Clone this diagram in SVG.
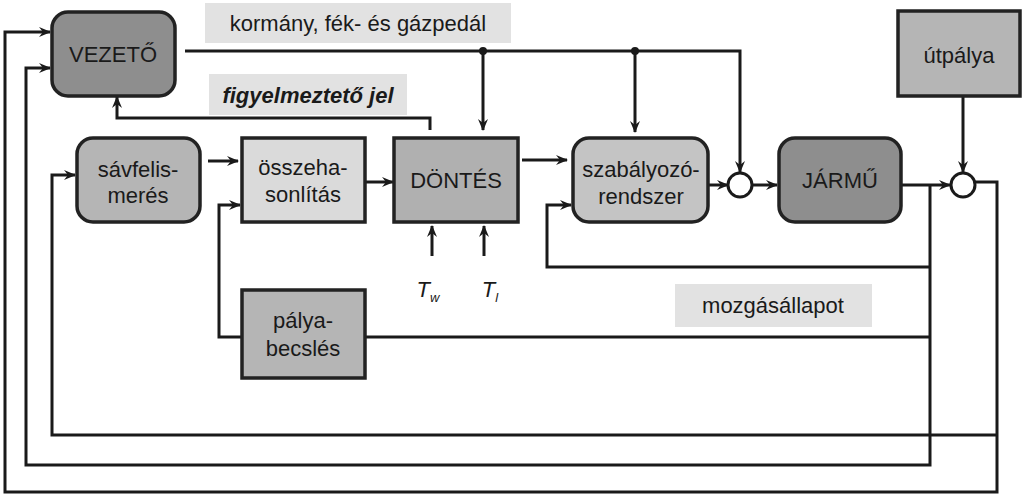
<svg xmlns="http://www.w3.org/2000/svg" width="1024" height="499" viewBox="0 0 1024 499">
<style>
.n{stroke:#222;stroke-width:3.5}
.t{font-family:"Liberation Sans",Arial,sans-serif;font-size:22px;fill:#1a1a1a;text-anchor:middle}
.c{fill:none;stroke:#1a1a1a;stroke-width:3}
.a{marker-end:url(#ah)}
.bg{fill:#e2e2e2}
</style>
<defs>
<marker id="ah" viewBox="0 0 12 10" refX="11" refY="5" markerWidth="12" markerHeight="10" markerUnits="userSpaceOnUse" orient="auto">
<path d="M0,0 L12,5 L0,10 L4,5 z" fill="#1a1a1a"/>
</marker>
</defs>
<rect width="1024" height="499" fill="#fff"/>
<g id="labels">
<rect class="bg" x="205" y="3" width="306" height="40"/>
<text class="t" x="358" y="31" font-size="23">kormány, fék- és gázpedál</text>
<rect class="bg" x="209" y="74" width="198" height="41"/>
<text class="t" x="308" y="103" font-style="italic" font-weight="bold" font-size="21">figyelmeztető jel</text>
<rect class="bg" x="675" y="284" width="197" height="43"/>
<text class="t" x="773" y="313" font-size="22">mozgásállapot</text>
<text class="t" x="428" y="297" font-style="italic" font-size="24">T<tspan font-size="13" dy="5" fill="#1a1a1a">w</tspan></text>
<text class="t" x="490" y="297" font-style="italic" font-size="24">T<tspan font-size="13" dy="5" fill="#1a1a1a">l</tspan></text>
</g>
<g id="connectors">
<path class="c a" d="M185,51 H740 V172"/>
<path class="c a" d="M483,51 V130"/>
<path class="c a" d="M635,51 V132"/>
<circle cx="483" cy="51" r="4" fill="#1a1a1a"/>
<circle cx="635" cy="51" r="4" fill="#1a1a1a"/>
<path class="c a" d="M430,130 V118 H117 V97"/>
<path class="c a" d="M208,161 H238"/>
<path class="c a" d="M365,182 H393"/>
<path class="c a" d="M522,160 H567"/>
<path class="c a" d="M708,185 H728"/>
<path class="c a" d="M752,185 H777"/>
<path class="c a" d="M901,185 H950"/>
<path class="c a" d="M963,96 V172"/>
<path class="c a" d="M432,256 V226"/>
<path class="c a" d="M484,256 V226"/>
<path class="c a" d="M930,185 V465 H26 V68 H50"/>
<path class="c a" d="M930,267 H547 V205 H571"/>
<path class="c" d="M930,337 H365"/>
<path class="c a" d="M242,337 H219 V205 H240"/>
<path class="c a" d="M975,182 H997 V492 H5 V32 H50"/>
<path class="c a" d="M997,435 H52 V175 H75"/>
<circle cx="740" cy="185" r="12" fill="#fff" stroke="#1a1a1a" stroke-width="3"/>
<circle cx="963" cy="185" r="12" fill="#fff" stroke="#1a1a1a" stroke-width="3"/>
</g>
<g id="vezeto"><rect class="n" x="52" y="12" width="123" height="84" rx="16" fill="#8e8e8e"/><text class="t" x="113" y="62" font-size="23">VEZETŐ</text></g>
<g id="savfelismeres"><rect class="n" x="77" y="138" width="123" height="84" rx="16" fill="#b5b5b5"/><text class="t" x="138" y="177">sávfelis-</text><text class="t" x="138" y="203">merés</text></g>
<g id="osszehasonlitas"><rect class="n" x="242" y="138" width="123" height="84" fill="#dadada"/><text class="t" x="303" y="175">összeha-</text><text class="t" x="303" y="202">sonlítás</text></g>
<g id="dontes"><rect class="n" x="394" y="138" width="124" height="84" fill="#b0b0b0"/><text class="t" x="456" y="188" font-size="23">DÖNTÉS</text></g>
<g id="szabalyozo"><rect class="n" x="573" y="138" width="135" height="84" rx="16" fill="#c4c4c4"/><text class="t" x="641" y="177" font-size="21.5">szabályozó-</text><text class="t" x="641" y="204">rendszer</text></g>
<g id="jarmu"><rect class="n" x="779" y="138" width="122" height="84" rx="16" fill="#8e8e8e"/><text class="t" x="840" y="188" font-size="23">JÁRMŰ</text></g>
<g id="utpalya"><rect class="n" x="898" y="11" width="122" height="85" fill="#b5b5b5"/><text class="t" x="959" y="63">útpálya</text></g>
<g id="palyabecsles"><rect class="n" x="242" y="290" width="123" height="88" fill="#b5b5b5"/><text class="t" x="303" y="328">pálya-</text><text class="t" x="303" y="356">becslés</text></g>
</svg>
